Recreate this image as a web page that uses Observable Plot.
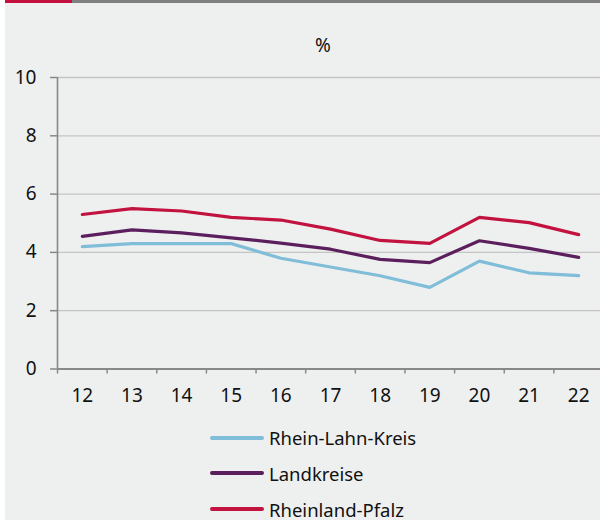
<!DOCTYPE html>
<html><head><meta charset="utf-8">
<script src="https://cdn.jsdelivr.net/npm/d3@7"></script>
<script src="https://cdn.jsdelivr.net/npm/@observablehq/plot@0.6"></script>
<style>
html,body{margin:0;padding:0;background:#fff;}
#wrap{position:absolute;left:5px;top:0;width:595px;height:520px;background:#eef0ef;overflow:hidden;font-family:"Noto Sans",sans-serif;}
#bar{height:3px;display:flex;}
#bar .r{width:67px;background:#c4103f;}
#bar .g{flex:1;background:#808080;}
.leg{position:absolute;left:205px;height:24px;display:flex;align-items:center;font-size:18.5px;color:#111;}
.leg .sw{width:54px;height:4px;border-radius:2px;margin-right:5px;}
</style></head>
<body>
<div id="wrap">
  <div id="bar"><div class="r"></div><div class="g"></div></div>
  <div id="chart"></div>
  <div id="legend"></div>
</div>
<script>
const years = [12, 13, 14, 15, 16, 17, 18, 19, 20, 21, 22];
const yTicks = [0, 2, 4, 6, 8, 10];
const seriesNames = ["Rhein-Lahn-Kreis", "Landkreise", "Rheinland-Pfalz"];
const seriesColors = ["#80bdd8", "#5c1f5e", "#c2123f"];
const rheinLahnKreis = [4.2, 4.3, 4.3, 4.3, 3.8, 3.5, 3.2, 2.8, 3.7, 3.3, 3.2];
const landkreise = [4.55, 4.77, 4.67, 4.5, 4.32, 4.11, 3.76, 3.65, 4.4, 4.14, 3.83];
const rheinlandPfalz = [5.3, 5.5, 5.42, 5.2, 5.11, 4.8, 4.41, 4.31, 5.2, 5.02, 4.61];
const unitLabel = "%";

const seriesValues = [rheinLahnKreis, landkreise, rheinlandPfalz];
const data = [];
seriesNames.forEach((name, i) => years.forEach((yr, j) => data.push({series: name, year: yr, value: seriesValues[i][j]})));
const bandEdges = years.map(y => y - 0.5).concat([years[years.length - 1] + 0.5]);

const chart = Plot.plot({
  width: 595,
  height: 410,
  marginLeft: 52,
  marginRight: 0,
  marginTop: 74,
  marginBottom: 44.5,
  style: {background: "transparent", fontFamily: "Noto Sans, sans-serif", fontSize: "19px", color: "#111", overflow: "visible"},
  x: {type: "linear", domain: [bandEdges[0], bandEdges[bandEdges.length - 1]], range: [52, 598]},
  y: {domain: [0, 10]},
  color: {domain: seriesNames, range: seriesColors},
  marks: [
    Plot.gridY(yTicks.filter(d => d > 0), {stroke: "#c4c4c4", strokeOpacity: 1, strokeWidth: 1.3}),
    Plot.axisY(yTicks, {tickSize: 7, tickPadding: 14, stroke: "#888", strokeWidth: 1.5, label: null, fill: "#111", fontSize: 19}),
    Plot.axisX(bandEdges, {tickSize: 5, tickFormat: () => "", stroke: "#888", strokeWidth: 1.5, label: null}),
    Plot.axisX(years, {tickSize: 0, tickPadding: 19, tickFormat: d => String(d), label: null, fill: "#111", fontSize: 19}),
    Plot.ruleX([bandEdges[0]], {y1: 0, y2: 10, stroke: "#888", strokeWidth: 1.6}),
    Plot.ruleY([0], {stroke: "#888", strokeWidth: 2}),
    Plot.line(data, {x: "year", y: "value", z: "series", stroke: "series", strokeWidth: 3.2, strokeLinecap: "round", strokeLinejoin: "round"}),
    Plot.text([unitLabel], {frameAnchor: "top", dx: -6, dy: -32, lineAnchor: "middle", fontSize: 19, fill: "#111"})
  ]
});
document.getElementById("chart").appendChild(chart);

const legend = document.getElementById("legend");
const rowCenters = [437.7, 473.3, 509];
seriesNames.forEach((name, i) => {
  const row = document.createElement("div");
  row.className = "leg";
  row.style.top = (rowCenters[i] - 12) + "px";
  row.innerHTML = `<div class="sw" style="background:${seriesColors[i]}"></div><span>${name}</span>`;
  legend.appendChild(row);
});
</script>
</body></html>
